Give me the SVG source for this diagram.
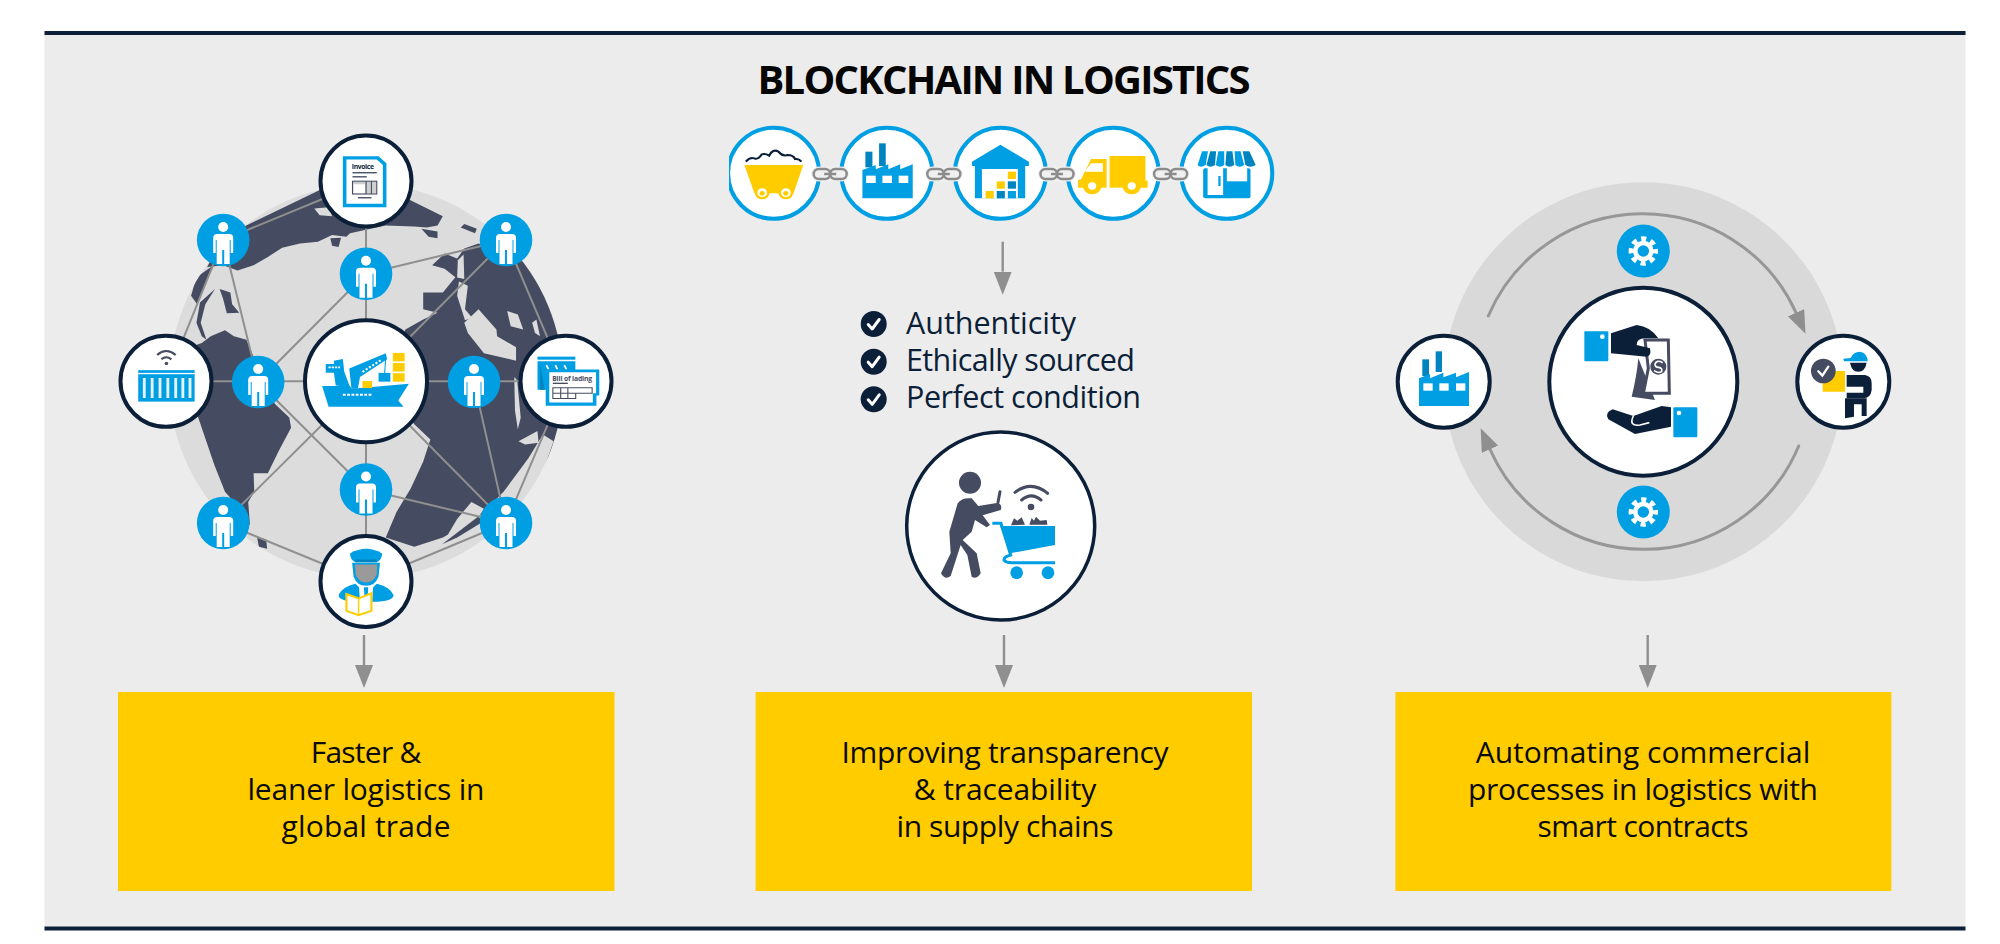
<svg xmlns="http://www.w3.org/2000/svg" xmlns:xlink="http://www.w3.org/1999/xlink" width="2000" height="944" viewBox="0 0 2000 944">
<style>
text{font-family:"Open Sans","Noto Sans","Liberation Sans",sans-serif}
.t{font-size:30px;font-weight:500;fill:#0a0a0a;text-anchor:middle}
.l{font-size:30.500px;font-weight:500;fill:#0b1f38}
.n{fill:#fff;stroke:#0b1f38;stroke-width:4}
.c{fill:#fff;stroke:#009fe3;stroke-width:4}
.b{fill:#009fe3}.d{fill:#0084c0}.y{fill:#ffcc00}.k{fill:#454b60}.v{fill:#0b1f38}.w{fill:#fff}
.box{fill:#ffcc00}
.cn{stroke:#8f8f8f;stroke-width:2;fill:none}
.ar{stroke:#8f8f8f;stroke-width:2.400;fill:none;marker-end:url(#ah)}
.arc{stroke:#979797;stroke-width:3;fill:none;stroke-linecap:round;marker-end:url(#ah)}
.lt{fill:#dcdcdc}
</style>
<defs>
<marker id="ah" markerUnits="userSpaceOnUse" markerWidth="24" markerHeight="18" refX="0" refY="9" orient="auto"><path d="M0,0L23,9L0,18Z" fill="#8f8f8f"/></marker>
<clipPath id="globeClip"><ellipse cx="745" cy="773" rx="552" ry="583"/></clipPath>
<clipPath id="cartClip"><rect x="729" y="110" width="100" height="130"/></clipPath>
<g id="person"><circle r="26.300" class="b"/><circle cy="-13" r="5" class="w"/><path class="w" d="M-6,-6H6Q10,-6 10,-2V13H7.500V0H6.500V24H1V10H-1V24H-6.500V0H-7.500V13H-10V-2Q-10,-6 -6,-6Z"/></g>
<g id="link"><rect x="-19" y="-7.500" width="38" height="15" rx="7.500" fill="#f0f0f0"/><rect x="-16.500" y="-5" width="16.500" height="10" rx="5" fill="none" stroke="#8c8c8c" stroke-width="2.500"/><rect x="0" y="-5" width="16.500" height="10" rx="5" fill="none" stroke="#8c8c8c" stroke-width="2.500"/><path d="M-6,0H6" stroke="#8c8c8c" stroke-width="2.500"/></g>
<g id="gear"><circle r="26.500" class="b"/><circle r="8" fill="none" stroke="#fff" stroke-width="4.500"/><circle r="12.200" fill="none" stroke="#fff" stroke-width="5" stroke-dasharray="5.100 4.480" stroke-dashoffset="2.500"/></g>
<g id="chk"><circle r="13" class="v"/><path d="M-5.500,0.500L-1.500,5L5.500,-4.500" fill="none" stroke="#fff" stroke-width="3" stroke-linecap="round" stroke-linejoin="round"/></g>
</defs>
<rect id="panel" x="44.500" y="33" width="1921" height="895" fill="#ececec"/>
<rect x="44.500" y="31" width="1921" height="4" fill="#0b1f38"/>
<rect x="44.500" y="926.500" width="1921" height="4" fill="#0b1f38"/>
<text x="1004" y="94" text-anchor="middle" font-size="40" font-weight="700" fill="#050505" textLength="493">BLOCKCHAIN IN LOGISTICS</text>

<circle id="ring" cx="1643.300" cy="381.700" r="199.500" fill="#d9d9d9"/>
<g id="globe">
<circle cx="366" cy="381.300" r="197" class="lt"/>
<g transform="translate(100 120) scale(.35714 .33806)" clip-path="url(#globeClip)">
<path class="k" d="M345,345L620,205L745,170L875,240L960,285L945,312L915,318L880,315L800,312L745,325L700,335L690,345L650,340L610,360L560,365L510,378L470,405L430,430L385,445L345,430L300,435Z"/>
<path class="k" d="M285,660L310,640L350,622L375,640L410,650L430,700L490,840L530,880L535,910L500,980L470,1045L430,1045L432,1100L415,1130L420,1200L400,1160L350,1100L320,1020L275,880L230,800L230,680Z"/>
<path class="k" d="M440,1235L465,1240L468,1268L445,1262Z"/>
<path class="k" d="M855,620L905,590L945,570L905,560L905,510L960,510L995,465L965,440L930,430L965,395L1000,410L1020,380L1060,365L1100,385L1300,400L1320,1000L1240,1040L1270,950L1240,930L1200,1000L1130,1100L1060,1175L960,1235L880,1262L800,1235L830,1160L870,1090L905,1010L925,945L880,900L800,780Z"/>
<path class="k" d="M320,428L300,470L272,545L255,520L270,465Z"/>
<path class="k" d="M335,500L365,510L370,545L390,570L355,572L345,530Z"/>
<path class="k" d="M322,500L295,545L282,600L298,650L285,640L270,600L280,540Z"/>
<path class="lt" d="M600,262L640,258L650,285L615,282Z"/>
<path class="k" d="M645,350L675,348L668,376L650,372Z"/>
<path class="k" d="M900,322L945,330L945,350L920,345Z"/>
<path class="k" d="M1010,318L1020,308L1055,322L1050,335Z"/>
<path class="lt" d="M1002,415L1018,398L1020,470L1000,466Z"/>
<path class="lt" d="M1005,478L1030,490L1022,560L1042,585L1022,592L1000,520Z"/>
<path class="lt" d="M1020,600L1060,560L1110,620L1112,640L1165,672L1165,712L1075,690L1030,630Z"/>
<path class="lt" d="M1140,565L1170,575L1185,620L1150,610Z"/>
<path class="lt" d="M1210,600L1222,590L1232,640L1218,630Z"/>
<path class="lt" d="M1160,760L1168,770L1178,880L1170,915L1162,860Z"/>
<path class="lt" d="M1172,950L1225,920L1228,955L1190,960Z"/>
<path class="lt" d="M958,1255L1060,1175L1075,1150L1040,1130L1000,1180Z"/>
<path class="k" d="M958,1255L1060,1172L1070,1190L1000,1235Z"/>
</g>
</g>

<g id="connectors">
<path class="cn" d="M366,181V581.500M166,381.300H566M223.200,240L366,181M223.200,240L166,381.300M223.200,240L258.200,382M258.200,382L366,273.800M366,273.800L506,240M506,240L366,381.300M506,240L566,381.300M566,381.300L506,523M474,382L506,523M366,381.300L506,523M366,489.500L506,523M506,523L366,581.500M223.200,523L366,581.500M223.200,523L366,381.300M258.200,382L366,489.500"/>
<path class="ar" d="M364,635V665"/>
<path class="ar" d="M1004,635V665"/>
<path class="ar" d="M1647.700,635V665"/>
<path class="ar" d="M1002.700,241.700V271.700"/>
<path class="arc" d="M1488.300,316A168,168 0 0 1 1796,312.700"/>
<path class="arc" d="M1798.700,446A168,168 0 0 1 1490,449.300"/>
</g>

<g id="p1"><use xlink:href="#person" href="#person" x="223.200" y="240"/></g>
<g id="p2"><use xlink:href="#person" href="#person" x="506" y="240"/></g>
<g id="p3"><use xlink:href="#person" href="#person" x="366" y="273.800"/></g>
<g id="p4"><use xlink:href="#person" href="#person" x="258.200" y="382"/></g>
<g id="p5"><use xlink:href="#person" href="#person" x="474" y="382"/></g>
<g id="p6"><use xlink:href="#person" href="#person" x="366" y="489.500"/></g>
<g id="p7"><use xlink:href="#person" href="#person" x="223.200" y="523"/></g>
<g id="p8"><use xlink:href="#person" href="#person" x="506" y="523"/></g>

<g id="ship"><circle class="n" cx="366" cy="381.300" r="61"/>
<g transform="translate(100 120) scale(.35714 .33806)">
<path class="b" d="M622,787L700,787L705,795L865,780L835,830L850,848L640,848Z"/>
<path class="b" d="M632,722L655,722L655,712L680,707L684,745L700,790L660,785L655,748L632,748Z"/>
<path class="b" d="M698,735L800,690L804,708L728,760L722,795L704,795Z"/>
<path d="M800,705L797,750" stroke="#009fe3" stroke-width="3"/>
<rect class="y" x="820" y="689" width="33" height="25"/><rect class="y" x="820" y="719" width="33" height="25"/><rect class="y" x="820" y="749" width="33" height="25"/>
<rect class="b" x="780" y="748" width="33" height="26"/><rect class="y" x="735" y="772" width="27" height="21"/>
<path d="M680,813H760" stroke="#fff" stroke-width="6" stroke-dasharray="8 4"/>
<path d="M640,732H672" stroke="#fff" stroke-width="5" stroke-dasharray="6 3"/>
<path d="M735,745L790,708" stroke="#fff" stroke-width="6" stroke-dasharray="6 5"/>
</g></g>

<g id="invoice"><circle class="n" cx="366" cy="181" r="45.500"/>
<g transform="translate(100 120) scale(.35714 .33806)">
<path class="b" d="M680,107H780L802,128V258H680Z"/><path class="w" d="M690,117H775L792,133V248H690Z"/>
<text x="705" y="145" font-size="19" font-weight="700" fill="#0b1f38" textLength="62">Invoice</text>
<rect class="k" x="707" y="154" width="68" height="4"/><rect class="k" x="707" y="166" width="40" height="4"/>
<rect x="707" y="181" width="68" height="38" fill="#cfcfcf" stroke="#454b60" stroke-width="3"/><path d="M745,181V219M760,181V219" stroke="#454b60" stroke-width="3"/><rect class="w" x="710" y="190" width="32" height="26"/>
<rect class="k" x="722" y="228" width="38" height="4"/>
</g></g>

<g id="container"><circle class="n" cx="166" cy="381.300" r="45.500"/>
<g transform="translate(100 120) scale(.35714 .33806)">
<path d="M160,695Q185,672 212,695M172,708Q185,696 200,708" fill="none" stroke="#454b60" stroke-width="6"/><circle class="k" cx="186" cy="720" r="5"/>
<rect class="b" x="107" y="740" width="158" height="93"/><rect class="w" x="107" y="748" width="158" height="4"/>
<path d="M124,763V822M146,763V822M168,763V822M190,763V822M212,763V822M232,763V822M252,763V822" stroke="#fff" stroke-width="8" opacity=".9"/>
</g></g>

<g id="bol"><circle class="n" cx="566" cy="381.300" r="45.500"/>
<g transform="translate(100 120) scale(.35714 .33806)">
<rect class="b" x="1225" y="700" width="106" height="9"/>
<path class="b" d="M1225,714H1331V740H1255V798H1225Z"/>
<path d="M1250,725L1256,738M1275,725L1281,738M1300,725L1306,738" stroke="#fff" stroke-width="5"/>
<path class="d" d="M1232,725L1245,798H1232Z"/>
<path class="b" d="M1248,738H1398V815H1390V845H1248Z"/><path class="w" d="M1258,746H1389V808H1380V836H1258Z"/>
<text x="1266" y="772" font-size="19" font-weight="700" fill="#454b60" textLength="112">Bill of lading</text>
<rect class="k" x="1268" y="777" width="42" height="4"/>
<path d="M1268,792H1378V808H1332V824H1268ZM1268,808H1332M1290,792V824M1310,792V824" fill="none" stroke="#454b60" stroke-width="3"/>
</g></g>

<g id="officer"><circle class="n" cx="366" cy="581.500" r="45.500"/>
<g transform="translate(100 120) scale(.35714 .33806)">
<path class="b" d="M668,1405Q680,1380 715,1372L745,1402L775,1372Q810,1380 822,1405Q822,1425 765,1425L725,1425Q668,1425 668,1405Z"/>
<path class="b" d="M706,1310H784L780,1350Q770,1378 745,1378Q720,1378 710,1350Z"/>
<path d="M714,1315H776L775,1345Q765,1368 745,1368Q725,1368 716,1345Z" fill="#9a9a9a"/>
<path class="b" d="M700,1282Q745,1255 790,1282Q790,1300 775,1308H715Q700,1300 700,1282Z"/>
<rect class="d" x="715" y="1300" width="60" height="8"/>
<path class="w" d="M725,1378L745,1402L765,1378L762,1425H728Z"/><path class="b" d="M739,1382H751L749,1420H741Z"/>
<path d="M690,1402L724,1415L760,1400V1452L724,1465L690,1452Z" fill="#fff" stroke="#ffcc00" stroke-width="6"/><path d="M724,1415V1465" stroke="#ffcc00" stroke-width="4"/>
</g></g>

<g id="chain">
<g id="mine"><g clip-path="url(#cartClip)"><circle class="c" cx="773.600" cy="173.300" r="45.500"/></g>
<g transform="translate(710 110) scale(.36996 .33333)">
<path d="M97,155Q108,140 120,145Q130,150 140,133Q150,130 160,137Q170,115 185,125Q195,140 210,135Q225,135 230,147Q240,145 247,155" fill="none" stroke="#0b1f38" stroke-width="6"/>
<path class="y" d="M93,165H252L226,250H120Z"/>
<circle class="y" cx="141" cy="248" r="20"/><circle class="w" cx="141" cy="248" r="13"/><circle class="y" cx="141" cy="250" r="7"/>
<circle class="y" cx="205" cy="248" r="20"/><circle class="w" cx="205" cy="248" r="13"/><circle class="y" cx="205" cy="250" r="7"/>
</g></g>
<g id="factory1"><circle class="c" cx="886.800" cy="173.300" r="45.500"/>
<g transform="translate(710 110) scale(.36996 .33333)">
<rect class="d" x="420" y="125" width="19" height="47"/><rect class="d" x="457" y="100" width="18" height="68"/>
<path class="b" d="M412,265V180L448,165V178L482,163V178L514,163V178L548,163V265Z"/>
<rect class="w" x="422" y="197" width="26" height="22"/><rect class="w" x="466" y="197" width="26" height="22"/><rect class="w" x="510" y="197" width="26" height="22"/>
</g></g>
<g id="warehouse"><circle class="c" cx="1000.400" cy="173.300" r="45.500"/>
<g transform="translate(710 110) scale(.36996 .33333)">
<path class="b" d="M708,155L785,104L862,155V168H852V265H716V168H708Z"/><rect class="w" x="735" y="177" width="97" height="88"/>
<rect class="y" x="745" y="243" width="22" height="22"/><rect class="d" x="775" y="243" width="22" height="22"/><rect class="b" x="805" y="243" width="22" height="22"/>
<rect class="y" x="775" y="214" width="22" height="22"/><rect class="d" x="805" y="214" width="22" height="22"/><rect class="y" x="805" y="185" width="22" height="22"/>
</g></g>
<g id="truck"><circle class="c" cx="1113.300" cy="173.300" r="45.500"/>
<g transform="translate(710 110) scale(.36996 .33333)">
<rect class="y" x="1080" y="138" width="97" height="95"/><rect class="y" x="1172" y="212" width="11" height="21"/>
<path class="y" d="M995,233V210L1003,208L1030,147H1072V233Z"/><path class="w" d="M1030,160H1062V185H1012Z"/>
<circle class="y" cx="1033" cy="228" r="25"/><circle class="w" cx="1033" cy="228" r="11"/>
<circle class="y" cx="1140" cy="228" r="25"/><circle class="w" cx="1140" cy="228" r="11"/>
</g></g>
<g id="shop"><circle class="c" cx="1226.800" cy="173.300" r="45.500"/>
<g transform="translate(710 110) scale(.36996 .33333)">
<rect class="b" x="1333" y="175" width="128" height="90" rx="6"/><rect class="w" x="1345" y="170" width="42" height="85"/><rect class="w" x="1397" y="170" width="55" height="44"/>
<rect class="b" x="1374" y="198" width="6" height="30"/>
<path class="b" d="M1330,124H1346L1340,165Q1325,175 1318,165Z"/><path class="d" d="M1352,124H1368L1365,165Q1352,175 1342,165Z"/><path class="b" d="M1374,124H1390L1390,165Q1378,175 1367,165Z"/><path class="d" d="M1396,124H1412L1417,165Q1405,175 1393,165Z"/><path class="b" d="M1418,124H1434L1444,165Q1432,175 1420,165Z"/><path class="d" d="M1440,124H1458L1475,165Q1460,175 1447,165Z"/>
</g></g>
<use xlink:href="#link" href="#link" x="830.200" y="174"/>
<use xlink:href="#link" href="#link" x="943.800" y="174"/>
<use xlink:href="#link" href="#link" x="1057" y="174"/>
<use xlink:href="#link" href="#link" x="1170.600" y="174"/>
</g>

<g id="checks">
<use xlink:href="#chk" href="#chk" x="873.700" y="324"/><text class="l" x="906" y="334" textLength="170">Authenticity</text>
<use xlink:href="#chk" href="#chk" x="873.700" y="361.700"/><text class="l" x="906" y="371" textLength="229">Ethically sourced</text>
<use xlink:href="#chk" href="#chk" x="873.700" y="399.300"/><text class="l" x="906" y="408" textLength="235">Perfect condition</text>
</g>

<g id="shopper"><circle cx="1000.700" cy="526" r="94" fill="#fff" stroke="#0b1f38" stroke-width="3.500"/>
<g transform="translate(830 290) scale(.33333)">
<circle class="k" cx="420" cy="578" r="33"/>
<path class="k" d="M383,640Q395,622 425,625L445,648L505,638Q518,645 512,660L458,676L480,705L470,712L435,690L425,725L398,750L440,790L452,850Q440,870 425,860L412,795L392,765L362,858Q345,872 333,850L362,790L358,725Z"/>
<path d="M510,605L504,637" stroke="#454b60" stroke-width="9" stroke-linecap="round"/>
<path d="M555,607Q604,570 653,610M575,630Q604,605 633,630" fill="none" stroke="#454b60" stroke-width="9" stroke-linecap="round"/><circle class="k" cx="603" cy="651" r="10"/>
<path class="k" d="M543,706L552,685L562,692L575,682L585,704ZM598,704L605,684L612,692L618,680L630,692L650,690L652,704Z"/>
<path class="b" d="M510,708H675V765L540,790Z"/>
<path d="M487,700H513L542,795Q522,800 522,810Q526,818 545,818H675" fill="none" stroke="#009fe3" stroke-width="9"/>
<circle class="b" cx="560" cy="848" r="19"/><circle class="b" cx="654" cy="848" r="19"/>
</g></g>

<g id="g1"><use xlink:href="#gear" href="#gear" x="1643.300" y="251"/></g>
<g id="g2"><use xlink:href="#gear" href="#gear" x="1643.300" y="512"/></g>

<g id="factory2"><circle class="n" cx="1443.700" cy="381.700" r="46"/>
<g transform="translate(1380 170) scale(.33333)">
<rect class="d" x="127" y="568" width="20" height="50"/><rect class="d" x="167" y="544" width="19" height="62"/>
<path class="b" d="M117,708V625L150,612V625L190,608V622L228,608V622L267,606V708Z"/>
<rect class="w" x="130" y="640" width="28" height="22"/><rect class="w" x="178" y="640" width="28" height="22"/><rect class="w" x="228" y="640" width="28" height="22"/>
</g></g>

<g id="exchange"><circle class="n" cx="1643.300" cy="381.700" r="94"/>
<g transform="translate(1380 170) scale(.33333)">
<rect class="b" x="613" y="484" width="72" height="90" rx="3"/><circle class="w" cx="667" cy="500" r="7"/>
<path class="k" d="M775,565L825,690L755,680Q770,620 775,565Z"/>
<path d="M795,510H865L868,670H790L805,595Z" fill="#fff" stroke="#454b60" stroke-width="9"/>
<path class="v" d="M693,490L770,465Q812,470 835,505L795,505Q770,505 770,525L810,535Q815,558 800,560L693,550Z"/>
<circle cx="835" cy="590" r="24" class="k"/><path d="M848,578Q830,568 825,582Q825,592 836,592Q848,594 845,604Q838,612 822,602" fill="none" stroke="#fff" stroke-width="5"/>
<rect class="b" x="880" y="712" width="72" height="90" rx="3"/><circle class="w" cx="897" cy="729" r="7"/>
<path class="v" d="M873,712L845,708L760,738L698,718Q672,728 685,748L765,792L873,770Z"/>
<path d="M760,738Q745,770 780,765L808,758" fill="none" stroke="#fff" stroke-width="5"/>
</g></g>

<g id="courier"><circle class="n" cx="1843.300" cy="381.700" r="46"/>
<g transform="translate(1380 170) scale(.33333)">
<path class="y" d="M1328,632L1368,603H1395V665H1328Z"/>
<circle class="k" cx="1330" cy="603" r="37"/><path d="M1315,604L1327,617L1345,590" fill="none" stroke="#fff" stroke-width="7" stroke-linecap="round"/>
<path class="b" d="M1390,566L1412,564Q1420,545 1440,545Q1462,548 1463,574H1410L1392,574Z"/>
<path class="v" d="M1410,578H1460Q1455,605 1435,605Q1415,605 1410,578Z"/>
<path class="v" d="M1400,615H1455Q1475,618 1475,640V660Q1472,685 1450,685H1400V668H1450V650H1400Z"/>
<path class="v" d="M1395,685H1460V738H1445V703H1422V740L1395,745Z"/>
</g></g>

<g id="box1"><rect class="box" x="118" y="692" width="496.500" height="199"/>
<text class="t" x="366" y="762.700" textLength="110.500">Faster &amp;</text>
<text class="t" x="366" y="800" textLength="237">leaner logistics in</text>
<text class="t" x="366" y="836.700" textLength="169">global trade</text></g>
<g id="box2"><rect class="box" x="755.600" y="692" width="496.400" height="199"/>
<text class="t" x="1005" y="762.700" textLength="327">Improving transparency</text>
<text class="t" x="1005" y="800" textLength="182.600">&amp; traceability</text>
<text class="t" x="1005" y="836.700" textLength="217">in supply chains</text></g>
<g id="box3"><rect class="box" x="1395.400" y="692" width="496" height="199"/>
<text class="t" x="1643" y="762.700" textLength="334.500">Automating commercial</text>
<text class="t" x="1643" y="800" textLength="350">processes in logistics with</text>
<text class="t" x="1643" y="836.700" textLength="211">smart contracts</text></g>
</svg>
